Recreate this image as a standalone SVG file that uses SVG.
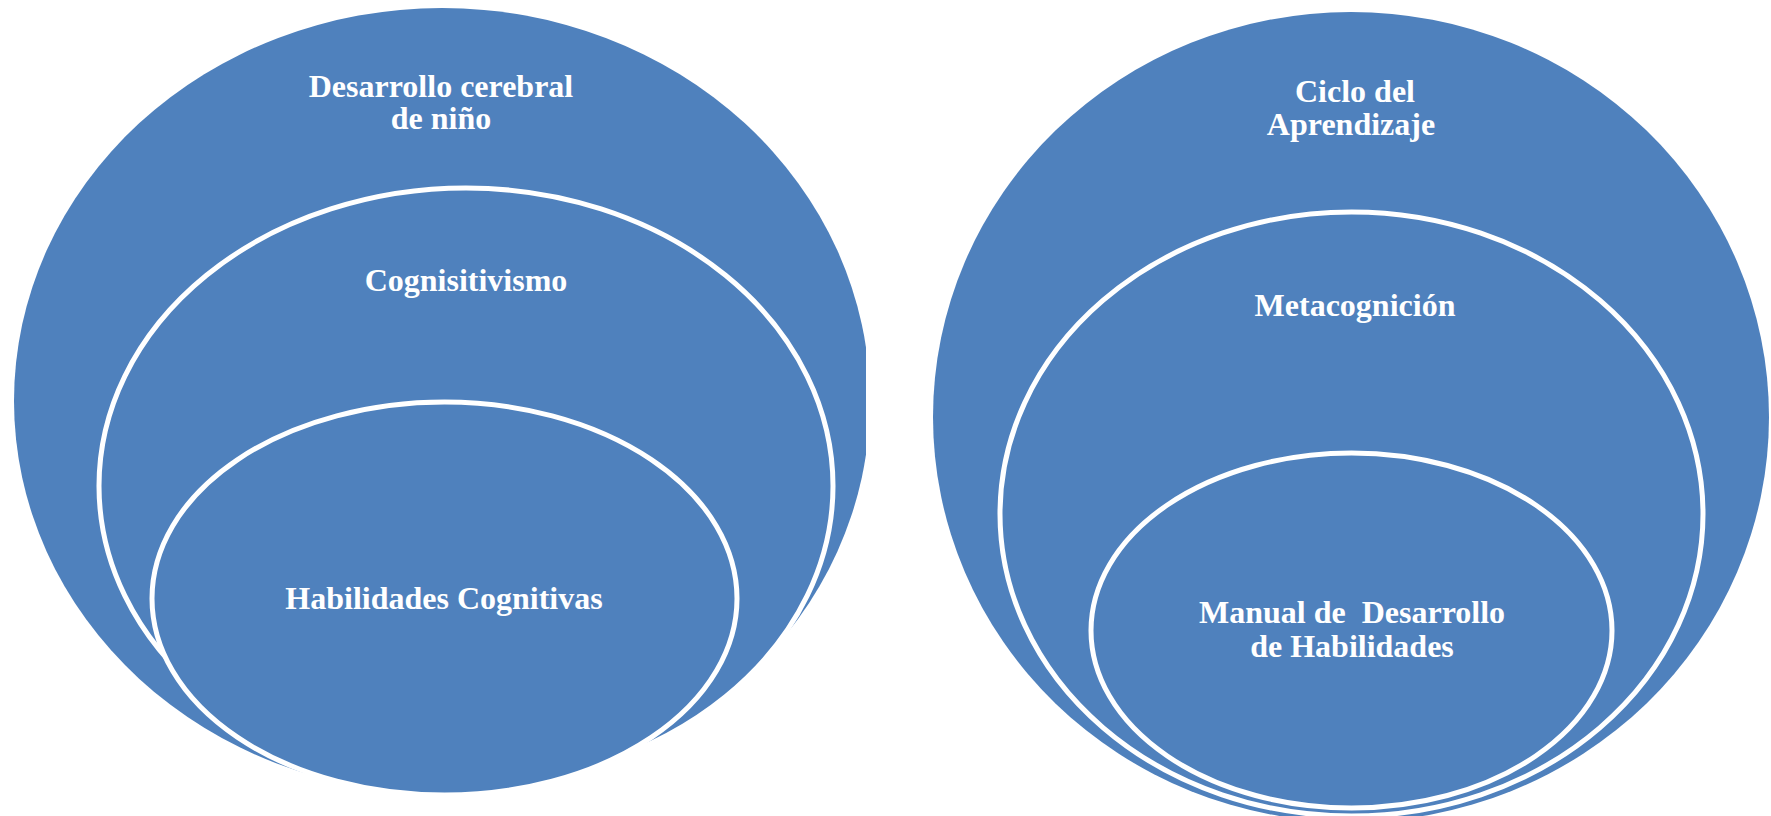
<svg xmlns="http://www.w3.org/2000/svg" width="1771" height="816" viewBox="0 0 1771 816">
  <style>
    .shape { fill: #4F81BD; stroke: #FFFFFF; stroke-width: 5; }
    .outer { fill: #4F81BD; stroke: none; }
    .label { font-family: "Liberation Serif", "Times New Roman", serif; font-weight: bold; font-size: 32px; fill: #FFFFFF; text-anchor: middle; white-space: pre; }
  </style>
  <defs>
    <clipPath id="clipLeft">
      <rect x="0" y="0" width="866" height="816"/>
    </clipPath>
  </defs>
  <rect x="0" y="0" width="1771" height="816" fill="#FFFFFF"/>

  <g id="desarrollo-cerebral">
    <ellipse class="outer" cx="442" cy="401" rx="428" ry="393" clip-path="url(#clipLeft)"/>
    <text class="label" x="441" y="97">Desarrollo cerebral</text>
    <text class="label" x="441" y="129">de niño</text>
  </g>
  <g id="cognisitivismo">
    <ellipse class="shape" cx="466" cy="486" rx="367" ry="298"/>
    <text class="label" x="466" y="291">Cognisitivismo</text>
  </g>
  <g id="habilidades-cognitivas">
    <ellipse class="shape" cx="444.5" cy="598.5" rx="292.5" ry="196.5"/>
    <text class="label" x="444" y="609">Habilidades Cognitivas</text>
  </g>

  <g id="ciclo-aprendizaje">
    <ellipse class="outer" cx="1351" cy="417" rx="418" ry="405"/>
    <text class="label" x="1355" y="102">Ciclo del</text>
    <text class="label" x="1351" y="135">Aprendizaje</text>
  </g>
  <g id="metacognicion">
    <ellipse class="shape" cx="1351.5" cy="514" rx="351.5" ry="302"/>
    <text class="label" x="1355" y="316">Metacognición</text>
  </g>
  <g id="manual-habilidades">
    <ellipse class="shape" cx="1351.5" cy="630.5" rx="260.5" ry="177.5"/>
    <text class="label" x="1352" y="623" xml:space="preserve">Manual de  Desarrollo</text>
    <text class="label" x="1352" y="657">de Habilidades</text>
  </g>

  <g id="connectors"/>
</svg>
